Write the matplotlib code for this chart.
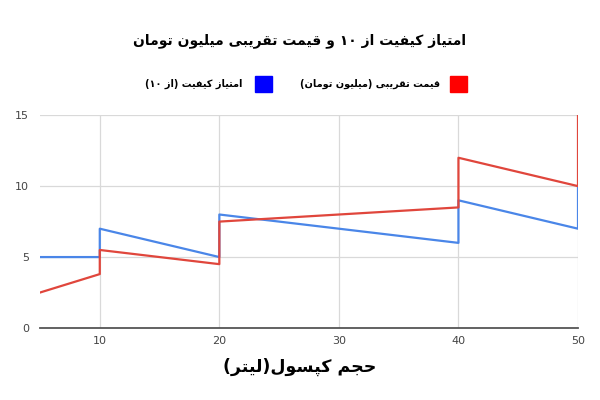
import matplotlib
matplotlib.use("Agg")
import matplotlib.pyplot as plt
from matplotlib.patches import Rectangle

# data (x repeated where the series jumps)
capsule_litres = [5, 10, 10, 20, 20, 40, 40, 50, 50]
price_million = [2.5, 3.8, 5.5, 4.5, 7.5, 8.5, 12, 10, 15]
quality_score = [5, 5, 7, 5, 8, 6, 9, 7, 10]
x_ticks = [10, 20, 30, 40, 50]
y_ticks = [0, 5, 10, 15]

title_txt = "امتیاز کیفیت از ۱۰ و قیمت تقریبی میلیون تومان"
price_lbl = "قیمت تقریبی (میلیون تومان)"
quality_lbl = "امتیاز کیفیت (از ۱۰)"
xlabel_txt = "حجم کپسول(لیتر)"

# --- tiny persian shaper: matplotlib has no bidi/shaping ---
# letter: (isolated, final, initial, medial); None initial => right-joining only
FORMS = {
    "\u0627": (0xFE8D, 0xFE8E, None, None),
    "\u0628": (0xFE8F, 0xFE90, 0xFE91, 0xFE92),
    "\u062A": (0xFE95, 0xFE96, 0xFE97, 0xFE98),
    "\u062C": (0xFE9D, 0xFE9E, 0xFE9F, 0xFEA0),
    "\u062D": (0xFEA1, 0xFEA2, 0xFEA3, 0xFEA4),
    "\u0631": (0xFEAD, 0xFEAE, None, None),
    "\u0632": (0xFEAF, 0xFEB0, None, None),
    "\u0633": (0xFEB1, 0xFEB2, 0xFEB3, 0xFEB4),
    "\u0641": (0xFED1, 0xFED2, 0xFED3, 0xFED4),
    "\u0642": (0xFED5, 0xFED6, 0xFED7, 0xFED8),
    "\u0644": (0xFEDD, 0xFEDE, 0xFEDF, 0xFEE0),
    "\u0645": (0xFEE1, 0xFEE2, 0xFEE3, 0xFEE4),
    "\u0646": (0xFEE5, 0xFEE6, 0xFEE7, 0xFEE8),
    "\u0648": (0xFEED, 0xFEEE, None, None),
    "\u06A9": (0xFB8E, 0xFB8F, 0xFB90, 0xFB91),
    "\u067E": (0xFB56, 0xFB57, 0xFB58, 0xFB59),
    "\u06CC": (0xFBFC, 0xFBFD, 0xFBFE, 0xFBFF),
}
NORMAL = {"\u0643": "\u06A9", "\u064A": "\u06CC", "\u0649": "\u06CC"}
MIRROR = {"(": ")", ")": "("}


def fa(s):
    s = "".join(NORMAL.get(c, c) for c in s)
    out = []
    for i, c in enumerate(s):
        if c not in FORMS:
            out.append(c)
            continue
        prev = s[i - 1] if i > 0 else ""
        nxt = s[i + 1] if i + 1 < len(s) else ""
        j_prev = prev in FORMS and FORMS[prev][2] is not None
        j_next = nxt in FORMS and FORMS[c][2] is not None
        iso, fin, ini, med = FORMS[c]
        if j_prev and j_next:
            out.append(chr(med))
        elif j_prev:
            out.append(chr(fin))
        elif j_next:
            out.append(chr(ini))
        else:
            out.append(chr(iso))
    # visual order: reverse, but keep digit runs left-to-right
    vis = [MIRROR.get(c, c) for c in reversed(out)]
    res, run = [], []
    for c in vis:
        if c.isdigit():
            run.append(c)
        else:
            res.extend(reversed(run))
            run = []
            res.append(c)
    res.extend(reversed(run))
    return "".join(res)


blue = "#4a86e8"
red = "#e0463c"
W, H = 600, 400

fig = plt.figure(figsize=(6, 4), dpi=100)
ax = fig.add_axes([40 / W, 0.18, 538 / W, 0.532])

ax.plot(capsule_litres, quality_score, color=blue, lw=1.6, zorder=3)
ax.plot(capsule_litres, price_million, color=red, lw=1.6, zorder=4)

ax.set_xlim(5, 50)
ax.set_ylim(0, 15)
ax.set_xticks(x_ticks)
ax.set_yticks(y_ticks)
ax.grid(True, color="#d9d9d9", lw=0.9)
ax.set_axisbelow(True)
for side in ["left", "top", "right"]:
    ax.spines[side].set_visible(False)
ax.spines["bottom"].set_color("#555555")
ax.spines["bottom"].set_linewidth(1.3)
ax.tick_params(length=0, labelsize=8, colors="#444444", pad=6)
ax.tick_params(axis="y", pad=8)

bold = dict(family="DejaVu Sans", fontweight="bold")
fig.text(300 / W, 1 - 41 / H, fa(title_txt), ha="center", va="center",
         fontsize=10, **bold)
fig.text(300 / W, 1 - 367 / H, fa(xlabel_txt), ha="center", va="center",
         fontsize=12.5, **bold)

# legend drawn by hand, right-to-left: square then label
legend_y = 1 - 84 / H
for lbl, col, sq_left, txt_right in [(price_lbl, "#ff0000", 450, 440),
                                     (quality_lbl, "#0000ff", 255, 242)]:
    fig.add_artist(Rectangle((sq_left / W, legend_y - 8 / H), 17 / W, 16 / H,
                             color=col, transform=fig.transFigure))
    fig.text(txt_right / W, legend_y, fa(lbl), ha="right", va="center",
             fontsize=7, **bold)

fig.savefig("out.png", dpi=100)
